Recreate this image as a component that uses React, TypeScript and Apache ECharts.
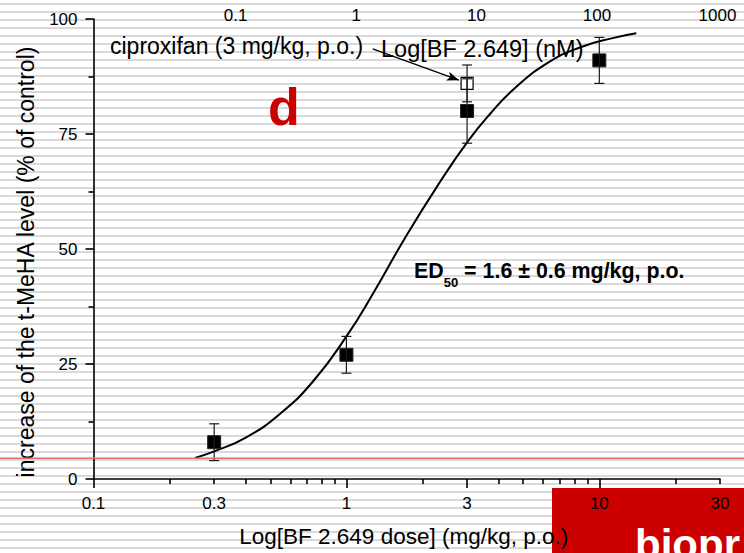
import React, { useEffect, useRef } from "react";
import * as echarts from "echarts";

const FONT = '"Liberation Sans", Arial, Helvetica, sans-serif';

// BF 2.649 oral doses (mg/kg) and mean increase of brain t-MeHA (% of control) with error
const doses = [0.3, 1, 3, 10];
const tMeHA = [8, 27, 80, 91];
const tMeHAErr = [4, 4, 7, 5];

// reference compound, ciproxifan 3 mg/kg p.o.
const ciproxifanDose = [3];
const ciproxifanValue = [86];
const ciproxifanErr = [4];

// fitted dose-response curve, sampled along its length
const fitDose = [0.252, 0.3, 0.4, 0.55, 0.74, 1.0, 1.28, 1.73, 2.34, 3.03, 3.69, 4.56, 6.18, 8.37, 11.4, 14.0];
const fitValue = [4.6, 6.0, 9.0, 14.3, 21.3, 31.0, 40.5, 53, 64.5, 73.5, 79.3, 84.6, 90.3, 93.8, 95.9, 96.9];

// dose axis (mg/kg), log scale
const doseRange = [0.1, 30];
const doseLabels = [0.1, 0.3, 1, 3, 10, 30];
const doseMajorTicks = [0.1, 1, 3, 10];
const doseMinorTicks = [0.2, 0.3, 0.4, 0.5, 0.6, 0.7, 0.8, 0.9, 2, 4, 5, 6, 7, 8, 9, 20, 30];

// matching concentration axis (nM), log scale
const nMRange = [0.0066, 1050];
const nMLabels = [0.1, 1, 10, 100, 1000];

// basal level guide line (%)
const baselineLevel = 4.5;

// arrow from the ciproxifan caption to its marker: [dose, %]
const arrowFrom = [1.27, 93.5];
const arrowTo = [2.785, 86.7];

const lg = (v: number) => Math.log10(v);
const fmtPow = (v: number) => String(Number(Math.pow(10, v).toPrecision(3)));

const errorBars = (dose: number[], val: number[], err: number[]) =>
  dose.map((d, i) => [lg(d), val[i] - err[i], val[i] + err[i]]);

const errorRender = (params: any, api: any) => {
  const x = api.value(0);
  const top = api.coord([x, api.value(2)]);
  const bot = api.coord([x, api.value(1)]);
  const hw = 5;
  const style = { stroke: "#1a1a1a", lineWidth: 1.2 };
  return {
    type: "group",
    children: [
      { type: "line", shape: { x1: top[0], y1: top[1], x2: bot[0], y2: bot[1] }, style },
      { type: "line", shape: { x1: top[0] - hw, y1: top[1], x2: top[0] + hw, y2: top[1] }, style },
      { type: "line", shape: { x1: bot[0] - hw, y1: bot[1], x2: bot[0] + hw, y2: bot[1] }, style },
    ],
  };
};

export default function App() {
  const ref = useRef<HTMLDivElement>(null);

  useEffect(() => {
    if (!ref.current) return;
    const chart = echarts.init(ref.current, null, { renderer: "svg" });

    const tickFont = { fontFamily: FONT, fontSize: 17, color: "#000" };
    const axisLine = { show: true, onZero: false, lineStyle: { color: "#000", width: 1.6 } };

    chart.setOption({
      animation: false,
      backgroundColor: "transparent",
      textStyle: { fontFamily: FONT },
      grid: { left: 93.5, right: 24, top: 19, bottom: 74, containLabel: false, outerBoundsMode: "none" },
      xAxis: [
        {
          type: "value",
          position: "bottom",
          min: lg(doseRange[0]),
          max: lg(doseRange[1]),
          axisLine,
          splitLine: { show: false },
          axisTick: {
            show: true,
            length: 9,
            customValues: doseMajorTicks.map(lg),
            lineStyle: { color: "#000", width: 1.6 },
          },
          axisLabel: {
            ...tickFont,
            margin: 16,
            customValues: doseLabels.map(lg),
            formatter: (v: number) => fmtPow(v),
          },
          name: "Log[BF 2.649 dose] (mg/kg, p.o.)",
          nameLocation: "middle",
          nameGap: 46,
          nameTextStyle: { fontFamily: FONT, fontSize: 22.5, color: "#000", padding: [0, 6, 0, 0] },
        },
        {
          type: "value",
          position: "bottom",
          min: lg(doseRange[0]),
          max: lg(doseRange[1]),
          axisLine: { show: false, onZero: false },
          splitLine: { show: false },
          axisLabel: { show: false },
          axisTick: {
            show: true,
            length: 5,
            customValues: doseMinorTicks.map(lg),
            lineStyle: { color: "#000", width: 1.6 },
          },
        },
        {
          type: "value",
          position: "top",
          min: lg(nMRange[0]),
          max: lg(nMRange[1]),
          axisLine: { show: false, onZero: false },
          splitLine: { show: false },
          axisTick: { show: false },
          axisLabel: {
            ...tickFont,
            margin: -5,
            customValues: nMLabels.map(lg),
            formatter: (v: number) => fmtPow(v),
          },
        },
      ],
      yAxis: {
        type: "value",
        min: 0,
        max: 100,
        interval: 25,
        axisLine,
        splitLine: { show: false },
        axisTick: { show: true, length: 8, lineStyle: { color: "#000", width: 1.6 } },
        minorTick: { show: true, splitNumber: 2, length: 5, lineStyle: { color: "#000", width: 1.6 } },
        axisLabel: { ...tickFont, margin: 16 },
        name: "increase of the t-MeHA level (% of control)",
        nameLocation: "middle",
        nameGap: 56,
        nameTextStyle: { fontFamily: FONT, fontSize: 23, color: "#000", padding: [0, 26, 0, 0] },
      },
      series: [
        {
          type: "line",
          xAxisIndex: 0,
          data: fitDose.map((d, i) => [lg(d), fitValue[i]]),
          showSymbol: false,
          smooth: 0.5,
          lineStyle: { color: "#000", width: 2 },
          z: 2,
        },
        {
          type: "scatter",
          xAxisIndex: 0,
          data: doses.map((d, i) => [lg(d), tMeHA[i]]),
          symbol: "rect",
          symbolSize: 13,
          itemStyle: { color: "#000", borderColor: "#222", borderWidth: 1, opacity: 1 },
          z: 3,
        },
        {
          type: "scatter",
          xAxisIndex: 0,
          data: ciproxifanDose.map((d, i) => [lg(d), ciproxifanValue[i]]),
          symbol: "rect",
          symbolSize: 12,
          itemStyle: { color: "#fff", borderColor: "#000", borderWidth: 1.2, opacity: 1 },
          z: 3,
          markLine: {
            silent: true,
            symbol: ["none", "arrow"],
            symbolSize: [7, 12],
            label: { show: false },
            lineStyle: { color: "#000", width: 1.3, type: "solid" },
            data: [[{ coord: [lg(arrowFrom[0]), arrowFrom[1]] }, { coord: [lg(arrowTo[0]), arrowTo[1]] }]],
          },
        },
        {
          type: "custom",
          xAxisIndex: 0,
          renderItem: errorRender,
          encode: { x: 0, y: [1, 2] },
          data: [
            ...errorBars(doses, tMeHA, tMeHAErr),
            ...errorBars(ciproxifanDose, ciproxifanValue, ciproxifanErr),
          ],
          z: 4,
        },
      ],
    });

    const baseY = chart.convertToPixel({ yAxisIndex: 0 }, baselineLevel) as number;
    const W = chart.getWidth();
    const H = chart.getHeight();

    chart.setOption({
      graphic: [
        {
          type: "rect",
          z: -10,
          shape: { x: 552, y: 488, width: W - 552, height: H - 488 },
          style: { fill: "#cc0000" },
        },
        {
          type: "text",
          z: -5,
          x: 635,
          y: 544,
          style: { text: "biopr", fill: "#fff", font: `bold 42px ${FONT}`, verticalAlign: "middle" },
        },
        {
          type: "line",
          z: 5,
          shape: { x1: 0, y1: baseY, x2: W, y2: baseY },
          style: { stroke: "#e07070", lineWidth: 1.6 },
        },
        {
          type: "text",
          x: 268,
          y: 107,
          style: { text: "d", fill: "#cc0000", font: `bold 52px ${FONT}`, verticalAlign: "middle" },
        },
        {
          type: "text",
          x: 110,
          y: 46,
          style: { text: "ciproxifan (3 mg/kg, p.o.)", fill: "#000", font: `23px ${FONT}`, verticalAlign: "middle" },
        },
        {
          type: "text",
          x: 381,
          y: 49,
          style: { text: "Log[BF 2.649] (nM)", fill: "#000", font: `23.5px ${FONT}`, verticalAlign: "middle" },
        },
        {
          type: "text",
          x: 414,
          y: 260,
          style: {
            text: "{a|ED}{b|50}{a| = 1.6 ± 0.6 mg/kg, p.o.}",
            fill: "#000",
            verticalAlign: "top",
            rich: {
              a: { fontFamily: FONT, fontSize: 21.4, fontWeight: "bold", lineHeight: 29, verticalAlign: "top" },
              b: { fontFamily: FONT, fontSize: 13, fontWeight: "bold", lineHeight: 15, verticalAlign: "bottom" },
            },
          },
        },
      ],
    });

    return () => chart.dispose();
  }, []);

  return (
    <div
      style={{
        position: "fixed",
        left: 0,
        top: 0,
        width: 744,
        height: 553,
        background:
          "repeating-linear-gradient(to bottom, #ffffff 0px, #ffffff 3px, #d9d9d9 3px, #d9d9d9 5px, #ffffff 5px, #ffffff 8px)",
      }}
    >
      <div ref={ref} style={{ width: 744, height: 553 }} />
    </div>
  );
}
